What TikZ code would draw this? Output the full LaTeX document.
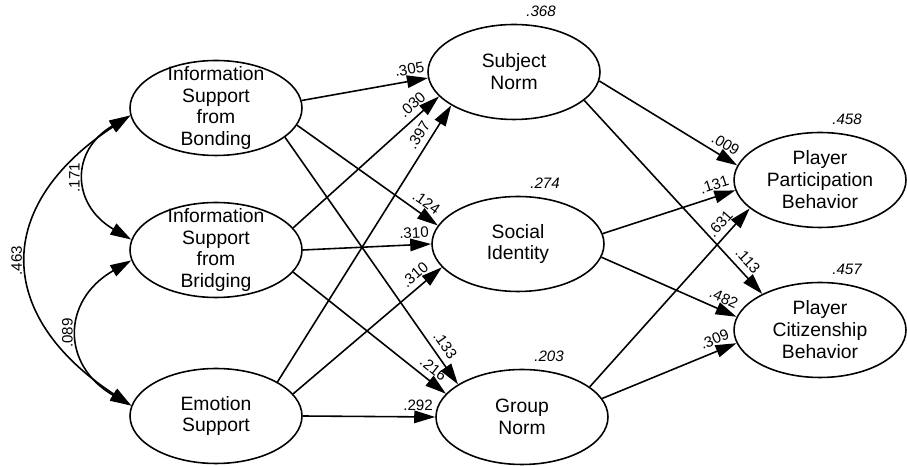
\documentclass[tikz,border=0pt]{standalone}
\usepackage{fontspec}
\setmainfont{Liberation Sans}
\usetikzlibrary{shapes.geometric,arrows.meta}

\begin{document}
\begin{tikzpicture}[>={Triangle[length=4.2mm,width=2.5mm]}, x=0.02cm, y=0.02cm]

    % styles
    \tikzstyle{latent}=[ellipse, draw, line width=0.9pt, minimum width=3.44cm, minimum height=1.9cm, inner xsep=0pt, inner ysep=-8pt, align=center, font=\fontsize{11}{12.5}\selectfont]
    \tikzstyle{effect}=[->, line width=0.9pt]
    \tikzstyle{covar}=[<->, line width=0.9pt]
    \tikzstyle{coef}=[font=\fontsize{8.6}{9}\selectfont, sloped, pos=0.87, above=2.3pt, inner sep=1pt]
    \tikzstyle{covcoef}=[font=\fontsize{8.6}{9}\selectfont, midway, rotate=90, anchor=south, inner sep=3pt]
    \tikzstyle{rsq}=[font=\fontsize{8.6}{9}\selectfont\itshape, inner sep=1pt]

    \useasboundingbox (0,0) rectangle (907,466);

    %======================= EXOGENOUS =======================
    \node[latent] (ib)  at (216,358) {Information\\Support\\from\\Bonding};
    \node[latent] (ibr) at (216,216) {Information\\Support\\from\\Bridging};
    \node[latent] (es)  at (216,50)  {Emotion\\Support};

    %======================= MEDIATORS =======================
    \node[latent] (sn) at (514,394) {Subject\\Norm};
    \node[latent] (si) at (518,222) {Social\\Identity};
    \node[latent] (gn) at (522,49)  {Group\\Norm};

    %======================= OUTCOMES =======================
    \node[latent] (ppb) at (820,286) {Player\\Participation\\Behavior};
    \node[latent] (pcb) at (820,136) {Player\\Citizenship\\Behavior};

    % squared multiple correlations
    \node[rsq] (r2sn)  at ([shift={(27,12)}]sn.north)  {.368};
    \node[rsq] (r2si)  at ([shift={(27,12)}]si.north)  {.274};
    \node[rsq] (r2gn)  at ([shift={(27,12)}]gn.north)  {.203};
    \node[rsq] (r2ppb) at ([shift={(27,12)}]ppb.north) {.458};
    \node[rsq] (r2pcb) at ([shift={(27,12)}]pcb.north) {.457};

    % covariances
    \draw[covar] (ibr.173) .. controls +(-60,35) and +(-60,-35) .. (ib.185) node[covcoef] {.171};
    \draw[covar] (es.173) .. controls +(-70,40) and +(-70,-40) .. (ibr.187) node[covcoef] {.089};
    \draw[covar] (es.173) .. controls +(-137,90) and +(-137,-90) .. (ib.185) node[covcoef] {.463};

    % paths to the mediators
    \draw[effect] (ib.5)    -- node[coef] {.305} (sn.184);
    \draw[effect] (ibr.16)  -- node[coef] {.030} (sn.198);
    \draw[effect] (es.29)   -- node[coef] {.397} (sn.208);
    \draw[effect] (ib.-12)  -- node[coef] {.124} (si.167);
    \draw[effect] (ibr.0)   -- node[coef] {.310} (si.180);
    \draw[effect] (es.16)   -- node[coef] {.310} (si.197);
    \draw[effect] (ib.-23)  -- node[coef] {.133} (gn.153);
    \draw[effect] (ibr.-16) -- node[coef] {.216} (gn.163);
    \draw[effect] (es.0)    -- node[coef] {.292} (gn.180);

    % paths to the outcomes
    \draw[effect] (sn.-6)  -- node[coef] {.009} (ppb.170);
    \draw[effect] (si.7)   -- node[coef] {.131} (ppb.187);
    \draw[effect] (gn.24)  -- node[coef] {.631} (ppb.202);
    \draw[effect] (sn.-22) -- node[coef] {.113} (pcb.148);
    \draw[effect] (si.-9)  -- node[coef] {.482} (pcb.171);
    \draw[effect] (gn.13)  -- node[coef] {.309} (pcb.189);

\end{tikzpicture}
\end{document}
